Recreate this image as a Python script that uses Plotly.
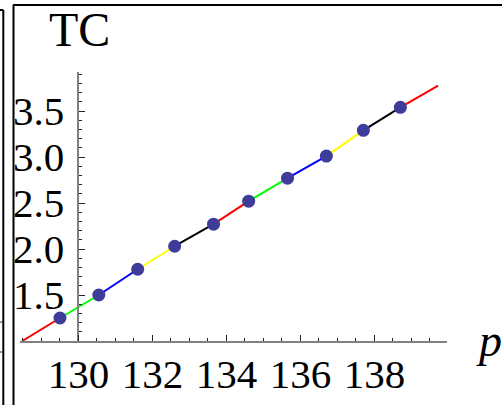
import plotly.graph_objects as go

# ---- data ----
point_x = [129.5, 130.55, 131.6, 132.6, 133.65, 134.6, 135.65, 136.7, 137.7, 138.7]
point_y = [1.25, 1.50, 1.78, 2.03, 2.27, 2.52, 2.77, 3.01, 3.29, 3.54]
line_start = [128.48, 1.0]
line_end = [139.72, 3.775]
segment_colors = ["#FF0000", "#00FF00", "#0000FF", "#FFFF00", "#000000"]
x_tickvals = [130, 132, 134, 136, 138]
x_ticktext = ["130", "132", "134", "136", "138"]
y_tickvals = [1.5, 2.0, 2.5, 3.0, 3.5]
y_ticktext = ["1.5", "2.0", "2.5", "3.0", "3.5"]
x_range = [128.42, 139.96]
y_range = [1.0, 3.924]

W, H = 502, 405
def px(x):
    return x / W
def py(y):
    return 1 - y / H

fig = go.Figure()

# coloured line pieces between the points
xs = [line_start[0]] + point_x + [line_end[0]]
ys = [line_start[1]] + point_y + [line_end[1]]
for i in range(len(xs) - 1):
    fig.add_trace(go.Scatter(
        x=[xs[i], xs[i + 1]], y=[ys[i], ys[i + 1]], mode="lines",
        line=dict(color=segment_colors[i % len(segment_colors)], width=2),
        showlegend=False, hoverinfo="skip"))

fig.add_trace(go.Scatter(
    x=point_x, y=point_y, mode="markers",
    marker=dict(color="#3D3D99", size=13, line=dict(width=0)),
    showlegend=False, cliponaxis=False))

tickfont = dict(family="Liberation Serif, Times New Roman, serif", size=41, color="black")

fig.update_layout(
    width=W, height=H, template="none",
    margin=dict(l=0, r=0, t=0, b=0),
    paper_bgcolor="white", plot_bgcolor="white",
    showlegend=False,
    xaxis=dict(
        domain=[px(20), px(447)], range=x_range, showgrid=False, zeroline=False,
        showline=True, linecolor="#808080", linewidth=1.5,
        tickmode="array", tickvals=x_tickvals, ticktext=x_ticktext,
        ticks="inside", ticklen=6, tickwidth=1.2, tickcolor="#222",
        tickfont=tickfont, automargin=False, ticklabelstandoff=-4,
        minor=dict(dtick=0.5, tick0=128, ticks="inside", ticklen=3,
                   tickwidth=1, tickcolor="#222", showgrid=False),
    ),
    yaxis=dict(
        domain=[py(341), py(72)], range=y_range, showgrid=False, zeroline=False,
        anchor="free", position=px(78.3),
        showline=True, linecolor="#808080", linewidth=1.5,
        tickmode="array", tickvals=y_tickvals, ticktext=y_ticktext,
        ticks="inside", ticklen=6, tickwidth=1.2, tickcolor="#222",
        tickfont=tickfont, automargin=False, ticklabelstandoff=5,
        minor=dict(dtick=0.1, tick0=1.0, ticks="inside", ticklen=3,
                   tickwidth=1, tickcolor="#222", showgrid=False),
    ),
)

# frame lines of the panel (and the neighbouring panel's edge)
frame = dict(color="black", width=2)
shapes = [
    dict(type="line", xref="paper", yref="paper", x0=px(13), x1=px(502), y0=py(5), y1=py(5), line=frame),
    dict(type="line", xref="paper", yref="paper", x0=px(13.5), x1=px(13.5), y0=py(5), y1=py(405), line=frame),
    dict(type="line", xref="paper", yref="paper", x0=px(3.3), x1=px(3.3), y0=py(10), y1=py(405), line=frame),
    dict(type="line", xref="paper", yref="paper", x0=px(0), x1=px(3.3), y0=py(10), y1=py(10), line=frame),
    dict(type="line", xref="paper", yref="paper", x0=px(0), x1=px(3), y0=py(322), y1=py(322), line=dict(color="#333", width=1)),
    dict(type="line", xref="paper", yref="paper", x0=px(0), x1=px(3), y0=py(352), y1=py(352), line=dict(color="#333", width=1)),
]
fig.update_layout(shapes=shapes)

fig.add_annotation(text="TC", xref="paper", yref="paper", x=px(79), y=py(29),
                   xanchor="center", yanchor="middle", showarrow=False,
                   font=dict(family="Liberation Serif, Times New Roman, serif", size=48, color="black"))
fig.add_annotation(text="<i>p</i>", xref="paper", yref="paper", x=px(489), y=py(340),
                   xanchor="center", yanchor="middle", showarrow=False,
                   font=dict(family="Liberation Serif, Times New Roman, serif", size=46, color="black"))

fig.write_html("out.html", config={"displayModeBar": False},
               post_script="document.body.style.margin='0';document.body.style.overflow='hidden';")
